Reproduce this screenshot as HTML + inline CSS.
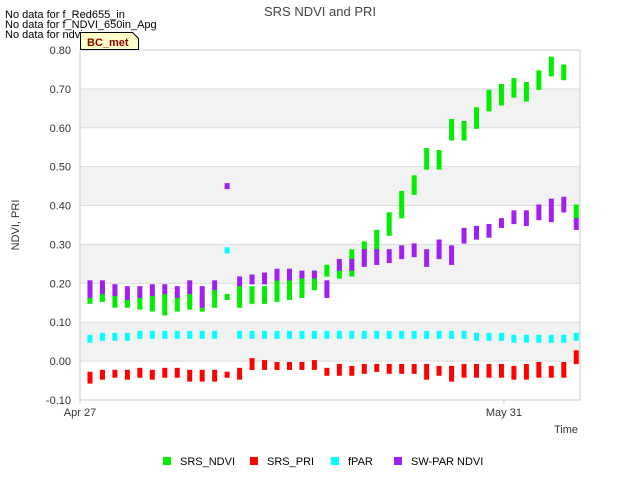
<!DOCTYPE html>
<html><head><meta charset="utf-8"><style>
body{margin:0;background:#fff;font-family:"Liberation Sans",sans-serif}
</style></head><body>
<svg id="c" width="640" height="480" xmlns="http://www.w3.org/2000/svg" font-family="Liberation Sans, sans-serif">
<rect x="0" y="0" width="640" height="480" fill="#fff"/>
<g id="bands"></g><g id="grid"></g><g id="marks"></g>
<rect x="80" y="50" width="500" height="350" fill="none" stroke="#ccc"/>
<text x="320" y="16" text-anchor="middle" font-size="13" fill="#444">SRS NDVI and PRI</text>
<text x="19" y="225" text-anchor="middle" font-size="11" fill="#333" transform="rotate(-90 19 225)">NDVI, PRI</text>
<text x="578" y="433" text-anchor="end" font-size="11" fill="#333">Time</text>
<g font-size="11" fill="#000">
<text x="5" y="18">No data for f_Red655_in</text>
<text x="5" y="28">No data for f_NDVI_650in_Apg</text>
<text x="5" y="38">No data for ndvi</text>
</g>
<g>
<path d="M80.5,32.5 H132.5 L138.5,38.5 V49.5 H80.5 Z" fill="#ffffc8" stroke="#000"/>
<text x="87" y="46" font-size="11" font-weight="bold" fill="#8b0000">BC_met</text>
</g>
<g id="legend"></g>
</svg>
<script>
const categories=[];for(let i=0;i<40;i++)categories.push(i+0.8); // day offsets from Apr 27
const ndviLo=[.155,.16,.145,.145,.14,.135,.125,.135,.14,.135,.145,.165,.145,.155,.155,.16,.165,.17,.19,.225,.22,.225,.255,.29,.33,.375,.435,.50,.50,.575,.575,.605,.65,.665,.685,.675,.705,.74,.73,.375];
const ndviHi=[.185,.19,.17,.17,.17,.17,.165,.165,.17,.16,.175,.165,.185,.185,.185,.205,.21,.215,.225,.24,.24,.28,.30,.33,.375,.43,.47,.54,.535,.615,.61,.645,.69,.705,.72,.71,.74,.775,.755,.395];
const priLo=[-.05,-.04,-.035,-.04,-.035,-.04,-.035,-.035,-.045,-.045,-.045,-.035,-.04,-.015,-.015,-.015,-.015,-.015,-.015,-.03,-.03,-.03,-.025,-.02,-.025,-.025,-.025,-.04,-.03,-.045,-.035,-.035,-.035,-.035,-.04,-.04,-.035,-.035,-.035,0];
const priHi=[-.035,-.03,-.03,-.03,-.025,-.03,-.025,-.025,-.03,-.03,-.03,-.035,-.025,0,-.005,-.01,-.01,-.01,-.005,-.025,-.015,-.02,-.015,-.015,-.015,-.015,-.015,-.015,-.02,-.02,-.015,-.015,-.015,-.015,-.02,-.015,-.01,-.02,-.01,.02];
const fparLo=[.055,.06,.06,.06,.065,.065,.065,.065,.065,.065,.065,.285,.065,.065,.065,.065,.065,.065,.065,.065,.065,.065,.065,.065,.065,.065,.065,.065,.065,.065,.065,.06,.06,.06,.055,.055,.055,.055,.055,.06];
const fparHi=[.06,.065,.065,.065,.07,.07,.07,.07,.07,.07,.07,.285,.07,.07,.07,.07,.07,.07,.07,.07,.07,.07,.07,.07,.07,.07,.07,.07,.07,.07,.07,.065,.065,.065,.06,.06,.06,.06,.06,.065];
const swLo=[.17,.18,.175,.165,.17,.175,.18,.17,.18,.145,.19,.45,.20,.205,.205,.215,.215,.22,.22,.17,.24,.24,.25,.255,.26,.27,.275,.25,.27,.255,.31,.32,.325,.35,.36,.355,.37,.365,.39,.345];
const swHi=[.20,.20,.19,.185,.185,.19,.19,.185,.20,.185,.20,.45,.21,.215,.22,.23,.23,.225,.225,.20,.255,.255,.28,.28,.28,.29,.295,.28,.305,.29,.335,.34,.345,.36,.38,.38,.395,.41,.415,.36];
const yTicks=[-0.10,0.00,0.10,0.20,0.30,0.40,0.50,0.60,0.70,0.80];
const xTickDays=[0,34];const xTickLabels=["Apr 27","May 31"];
const seriesNames=["SRS_NDVI","SRS_PRI","fPAR","SW-PAR NDVI"];
const colors=["#00ee00","#ff0000","#00ffff","#a020f0"];
const NS="http://www.w3.org/2000/svg";
const X=d=>80+d*500/40.1, Y=v=>400-(v+0.1)*350/0.9;
function mk(t,a,p){const e=document.createElementNS(NS,t);for(const k in a)e.setAttribute(k,a[k]);p.appendChild(e);return e;}
const bands=document.getElementById('bands'),grid=document.getElementById('grid'),marks=document.getElementById('marks'),leg=document.getElementById('legend');
for(let i=0;i<yTicks.length-1;i++){if(i%2===1){const r=mk('rect',{x:80,y:Y(yTicks[i+1]),width:500,height:Y(yTicks[i])-Y(yTicks[i+1]),fill:'#f2f2f2'},bands);

}}
yTicks.forEach(v=>{const l=mk('line',{x1:80,x2:580,y1:Y(v),y2:Y(v),stroke:'#ddd'},grid);


const t=mk('text',{x:71,y:Y(v)+4,'text-anchor':'end','font-size':11,fill:'#333'},grid);t.textContent=v.toFixed(2);

});
xTickDays.forEach((d,i)=>{const t=mk('text',{x:X(d),y:416,'text-anchor':'middle','font-size':11,fill:'#333'},grid);t.textContent=xTickLabels[i];


mk('line',{x1:X(d),x2:X(d),y1:400,y2:404,stroke:'#ccc'},grid);});
const los=[ndviLo,priLo,fparLo,swLo],his=[ndviHi,priHi,fparHi,swHi];
const order=[2,1,0,3];
order.forEach(s=>{categories.forEach((d,i)=>{const y1=Y(his[s][i])-3,y2=Y(los[s][i])+3;
const r=mk('rect',{x:X(d)-2.5,y:y1,width:5,height:y2-y1,fill:colors[s]},marks);

});});
const lx=[163,250,331,394];
seriesNames.forEach((n,s)=>{const g=mk('g',{},leg);


mk('rect',{x:lx[s],y:457,width:8,height:8,fill:colors[s]},g);
const t=mk('text',{x:lx[s]+17,y:465,'font-size':11,fill:'#000'},g);t.textContent=n;});
</script>
</body></html>
